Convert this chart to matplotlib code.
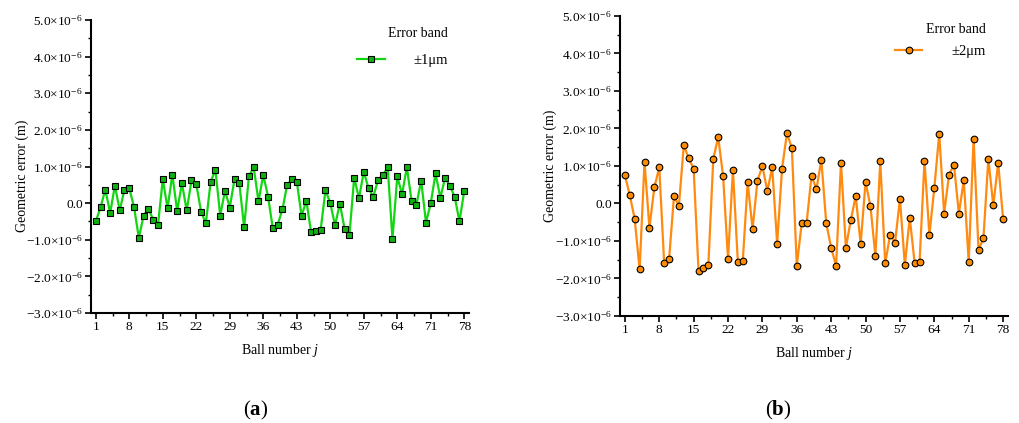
import numpy as np
import matplotlib
matplotlib.use("Agg")
import matplotlib.pyplot as plt
from matplotlib.ticker import FixedLocator, MultipleLocator, FuncFormatter

plt.rcParams['font.family'] = ['Liberation Serif', 'DejaVu Serif']
plt.rcParams['mathtext.fontset'] = 'custom'
plt.rcParams['mathtext.rm'] = 'Liberation Serif'
plt.rcParams['mathtext.it'] = 'Liberation Serif:italic'
plt.rcParams['mathtext.bf'] = 'Liberation Serif:bold'

# geometric error per ball (micrometres)
ball = np.arange(1, 79)
err_1um = [
    -0.50, -0.11, 0.37, -0.27, 0.48, -0.20, 0.37, 0.41, -0.11, -0.95,
    -0.34, -0.15, -0.45, -0.60, 0.65, -0.14, 0.78, -0.21, 0.54, -0.20,
    0.62, 0.52, -0.23, -0.55, 0.58, 0.91, -0.34, 0.34, -0.12, 0.66,
    0.54, -0.66, 0.73, 0.98, 0.05, 0.77, 0.18, -0.69, -0.59, -0.17,
    0.50, 0.65, 0.59, -0.35, 0.07, -0.80, -0.76, -0.72, 0.36, 0.00,
    -0.61, -0.01, -0.70, -0.88, 0.70, 0.13, 0.86, 0.40, 0.18, 0.64,
    0.76, 0.98, -0.98, 0.73, 0.24, 0.98, 0.06, -0.04, 0.61, -0.53,
    0.00, 0.81, 0.15, 0.69, 0.48, 0.17, -0.50, 0.34,
]
err_2um = [
    0.76, 0.22, -0.41, -1.76, 1.11, -0.65, 0.43, 0.96, -1.58, -1.49,
    0.20, -0.06, 1.56, 1.20, 0.93, -1.80, -1.72, -1.64, 1.19, 1.77,
    0.73, -1.48, 0.89, -1.56, -1.54, 0.56, -0.68, 0.61, 1.00, 0.33,
    0.96, -1.07, 0.93, 1.88, 1.47, -1.66, -0.53, -0.52, 0.74, 0.38,
    1.16, -0.53, -1.18, -1.66, 1.08, -1.18, -0.44, 0.20, -1.08, 0.57,
    -0.07, -1.40, 1.12, -1.60, -0.83, -1.05, 0.12, -1.64, -0.38, -1.59,
    -1.56, 1.14, -0.84, 0.41, 1.86, -0.27, 0.77, 1.03, -0.27, 0.62,
    -1.56, 1.73, -1.24, -0.93, 1.19, -0.05, 1.08, -0.41,
]
x_ticks = [1, 8, 15, 22, 29, 36, 43, 50, 57, 64, 71, 78]


def sci_label(v, pos):
    m = v * 1e6
    if abs(m) < 1e-9:
        return '0.0'
    sign = '\u2212' if m < 0 else ''
    return r'%s$%.1f{\times}10^{-6}$' % (sign, abs(m))


def draw_panel(ax, y, line_color, face_color, marker, label, msize,
               anchor, spacing, ylabel_y):
    ax.plot(ball, np.array(y) * 1e-6, color=line_color, lw=1.6,
            marker=marker, ms=msize, mfc=face_color, mec='black', mew=0.8,
            label=label)
    ax.set_xlim(0, 79)
    ax.set_ylim(-3e-6, 5e-6)
    ax.xaxis.set_major_locator(FixedLocator(x_ticks))
    ax.xaxis.set_minor_locator(FixedLocator([t + 3.5 for t in x_ticks[:-1]]))
    ax.yaxis.set_major_locator(MultipleLocator(1e-6))
    ax.yaxis.set_minor_locator(MultipleLocator(0.5e-6))
    ax.yaxis.set_major_formatter(FuncFormatter(sci_label))
    ax.tick_params(which='major', direction='out', length=4, width=1.2,
                   labelsize=9.6, pad=2)
    ax.tick_params(which='minor', direction='out', length=2, width=1.0)
    for side in ['top', 'right']:
        ax.spines[side].set_visible(False)
    for side in ['left', 'bottom']:
        ax.spines[side].set_linewidth(1.5)
    ax.set_xlabel(r'Ball number $\it{j}$', fontsize=10, labelpad=6)
    ax.set_ylabel('Geometric error (m)', fontsize=10, labelpad=-2)
    ax.yaxis.label.set_y(ylabel_y)
    leg = ax.legend(title='Error band', loc='upper right', frameon=False,
                    fontsize=10.5, title_fontsize=10, handlelength=1.9,
                    handletextpad=2.0, labelspacing=spacing,
                    bbox_to_anchor=anchor)
    leg._legend_box.align = 'right'


fig = plt.figure(figsize=(10.19, 4.23), dpi=100)
ax_a = fig.add_axes([0.0893, 0.260, 0.371, 0.6927])
ax_b = fig.add_axes([0.6084, 0.253, 0.3808, 0.7092])

draw_panel(ax_a, err_1um, '#12d612', '#10b010', 's', '\u00b11\u03bcm', 4.3,
           (0.98, 1.02), 0.9, 0.468)
draw_panel(ax_b, err_2um, '#ff8a10', '#ff8c00', 'o', '\u00b12\u03bcm', 4.8,
           (0.977, 1.02), 0.6, 0.5)

fig.text(0.2505, 0.018, r'($\mathbf{a}$)', fontsize=15, ha='center')
fig.text(0.7635, 0.018, r'($\mathbf{b}$)', fontsize=15, ha='center')

fig.savefig('out.png', dpi=100)
